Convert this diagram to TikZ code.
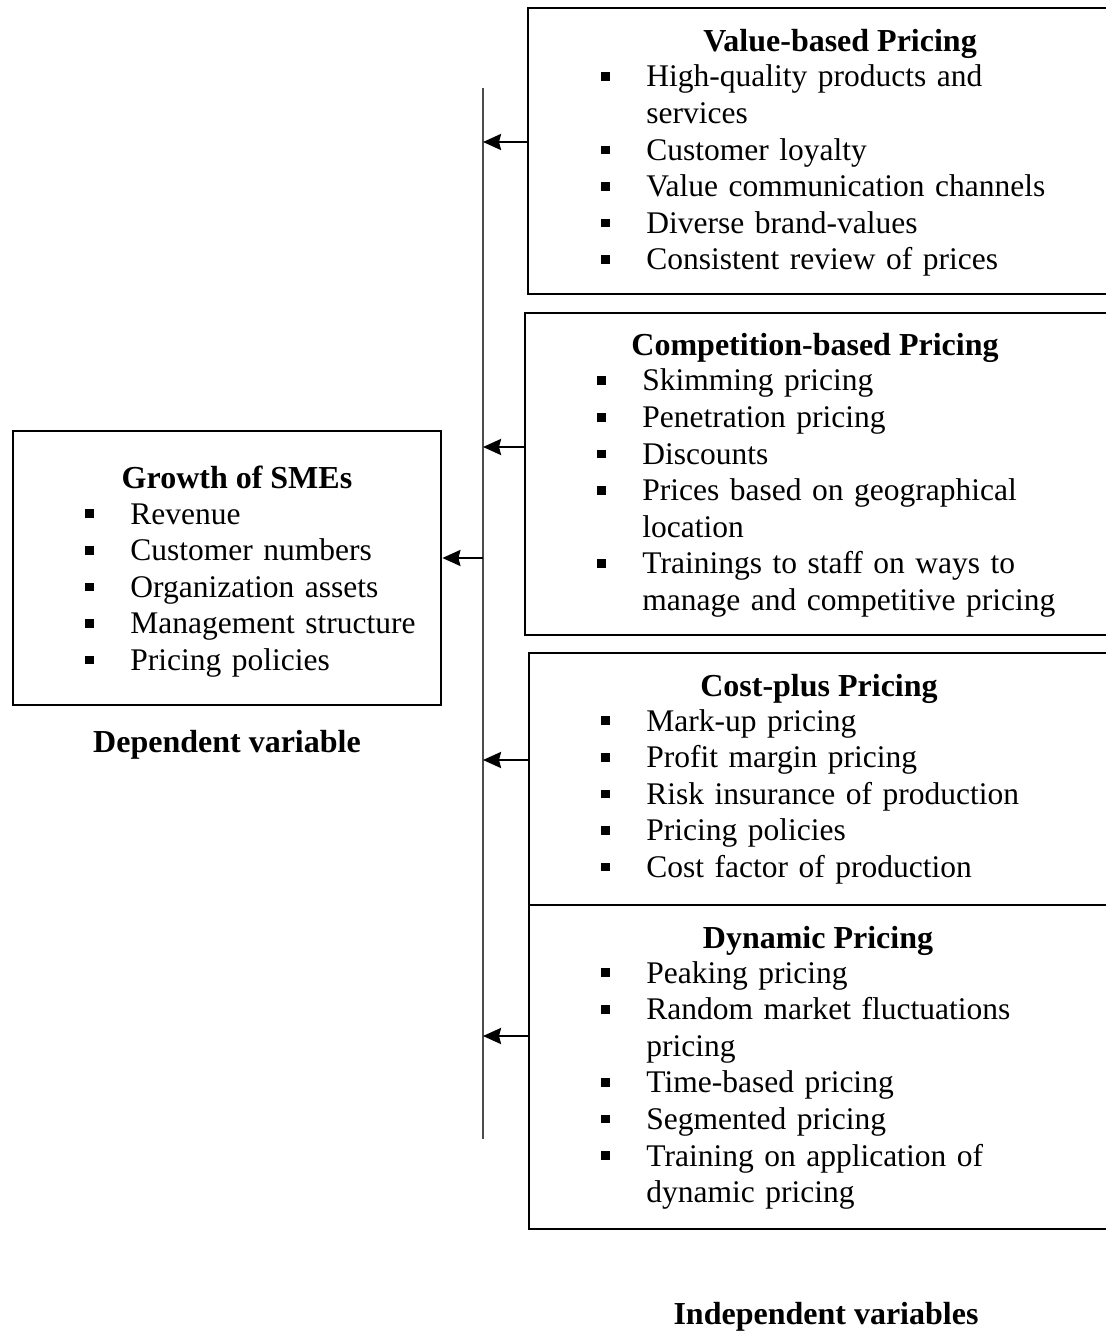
\documentclass[tikz,border=0pt]{standalone}
\usepackage{fontspec}
\setmainfont{Liberation Serif}
\usepackage{tikz}
\usetikzlibrary{arrows.meta, positioning, fit}

\newcommand{\boxfont}{\fontsize{16}{18.3}\selectfont}
\newcommand{\itemfont}{\fontsize{15.75}{18.3}\selectfont}
\newcommand{\bul}{\par\noindent\hangindent=22.5pt\hangafter=1%
  \makebox[22.5pt][l]{\rule[3pt]{4.3pt}{4.3pt}}\strut}

\begin{document}
\begin{tikzpicture}[x=0.5pt, y=-0.5pt,
  frame/.style={draw, line width=1.4pt, inner sep=0pt},
  head/.style={font=\boxfont\bfseries, anchor=base, inner sep=0pt},
  items/.style={font=\itemfont, anchor=north west, text width=250pt, align=left, inner sep=0pt},
  arr/.style={-{Stealth[length=9pt, width=8pt, inset=1pt]}, line width=1.2pt},
  spine/.style={draw=black!70, line width=0.6pt}]
\useasboundingbox (0,0) rectangle (1106,1331);

% independent variables
\node[frame, fit={(528,8) (1110,294)}] (value) {};
\node[head] (valuehead) at (840,52) {Value-based Pricing};
\node[items] (valueitems) at (601,50) {\bul High-quality products and\newline services
  \bul Customer loyalty
  \bul Value communication channels
  \bul Diverse brand-values
  \bul Consistent review of prices\par};

\node[frame, fit={(525,313) (1110,635)}] (competition) {};
\node[head] (competitionhead) at (815,356) {Competition-based Pricing};
\node[items] (competitionitems) at (597,354) {\bul Skimming pricing
  \bul Penetration pricing
  \bul Discounts
  \bul Prices based on geographical\newline location
  \bul Trainings to staff on ways to\newline manage and competitive pricing\par};

\node[frame, fit={(529,653) (1110,905)}] (cost) {};
\node[head] (costhead) at (819,696) {Cost-plus Pricing};
\node[items] (costitems) at (601,694) {\bul Mark-up pricing
  \bul Profit margin pricing
  \bul Risk insurance of production
  \bul Pricing policies
  \bul Cost factor of production\par};

\node[frame, fit={(529,905) (1110,1229)}] (dynamic) {};
\node[head] (dynamichead) at (818,948) {Dynamic Pricing};
\node[items] (dynamicitems) at (601,946) {\bul Peaking pricing
  \bul Random market fluctuations\newline pricing
  \bul Time-based pricing
  \bul Segmented pricing
  \bul Training on application of\newline dynamic pricing\par};

% dependent variable
\node[frame, fit={(13,431) (441,705)}] (growth) {};
\node[head] (growthhead) at (237,488) {Growth of SMEs};
\node[items, text width=180pt] (growthitems) at (85,487) {\bul Revenue
  \bul Customer numbers
  \bul Organization assets
  \bul Management structure
  \bul Pricing policies\par};

\node[head] (deplabel) at (227,752) {Dependent variable};
\node[head] (indeplabel) at (826,1324) {Independent variables};

% spine and arrows
\coordinate (spinetop) at (483,88);
\coordinate (spinebot) at (483,1139);
\draw[spine] (spinetop) -- (spinebot);
\coordinate (tovalue) at (483,142);
\coordinate (tocompetition) at (483,447);
\coordinate (tocost) at (483,760);
\coordinate (todynamic) at (483,1036);
\coordinate (fromspine) at (483,558);
\draw[arr] (tovalue -| value.west) -- (tovalue);
\draw[arr] (tocompetition -| competition.west) -- (tocompetition);
\draw[arr] (tocost -| cost.west) -- (tocost);
\draw[arr] (todynamic -| dynamic.west) -- (todynamic);
\draw[arr] (fromspine) -- (fromspine -| growth.east);
\end{tikzpicture}
\end{document}
